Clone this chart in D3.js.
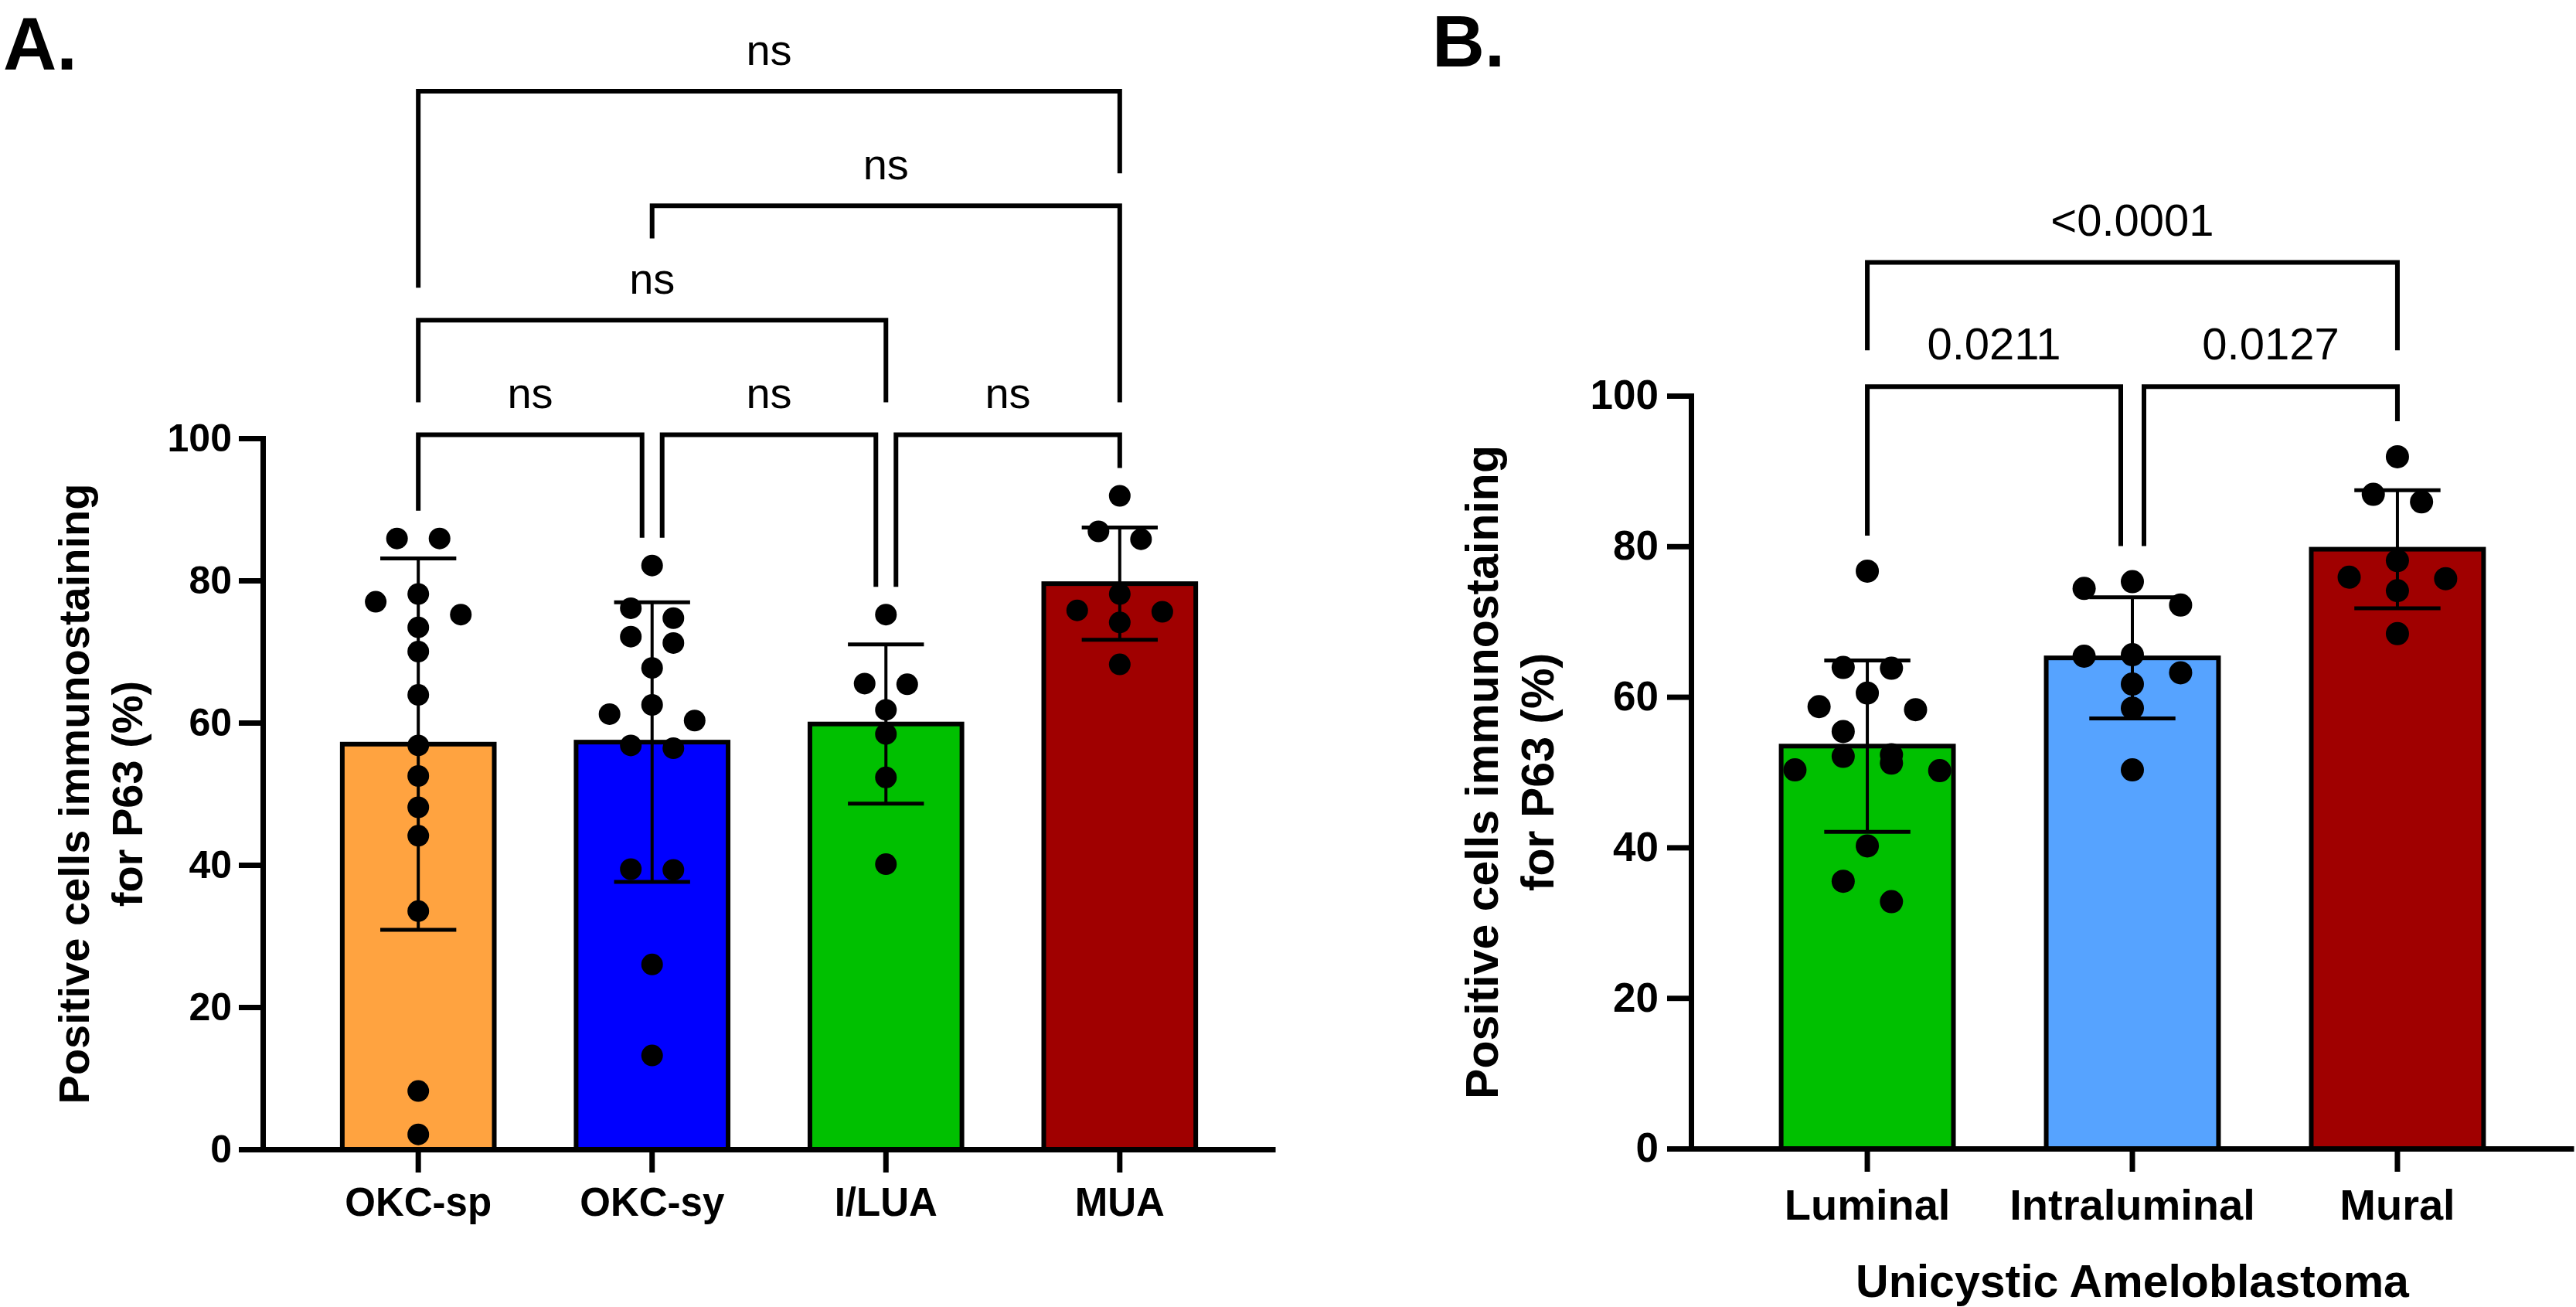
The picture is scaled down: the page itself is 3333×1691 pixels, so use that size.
<!DOCTYPE html>
<html>
<head>
<meta charset="utf-8">
<script src="https://cdn.jsdelivr.net/npm/d3@7"></script>
<style>
  body { margin: 0; background: #fff; }
  svg { display: block; }
</style>
</head>
<body>
<svg id="chart" width="3333" height="1691"></svg>
<script>
// ---- panel A : P63 positive cells per lesion type ----
const groupsA = ["OKC-sp", "OKC-sy", "I/LUA", "MUA"];
const okcSp = [85.9, 85.9, 78.1, 77.0, 75.2, 73.4, 70.0, 63.9, 56.8, 52.5, 48.1, 44.1, 33.5, 8.2, 2.1];
const okcSy = [82.1, 76.1, 74.7, 72.1, 71.2, 67.7, 62.5, 61.2, 60.3, 56.8, 56.4, 39.4, 39.3, 26.0, 13.2];
const iLua = [75.2, 65.5, 65.4, 61.8, 58.4, 52.3, 40.1];
const mua = [91.9, 86.9, 85.8, 78.1, 75.8, 75.6, 74.1, 68.2];
const pairsA = [["OKC-sp", "OKC-sy"], ["OKC-sy", "I/LUA"], ["I/LUA", "MUA"],
                ["OKC-sp", "I/LUA"], ["OKC-sy", "MUA"], ["OKC-sp", "MUA"]];
const pLabelsA = ["ns", "ns", "ns", "ns", "ns", "ns"];

// ---- panel B : unicystic ameloblastoma subtypes ----
const groupsB = ["Luminal", "Intraluminal", "Mural"];
const luminal = [76.7, 63.9, 63.8, 60.5, 58.7, 58.3, 55.4, 52.3, 52.1, 51.2, 50.3, 50.2, 40.2, 35.5, 32.8];
const intraluminal = [75.3, 74.4, 72.2, 65.6, 65.4, 63.2, 61.7, 58.5, 50.3];
const mural = [91.9, 86.9, 85.9, 78.1, 75.9, 75.7, 74.1, 68.4];
const pairsB = [["Luminal", "Intraluminal"], ["Intraluminal", "Mural"], ["Luminal", "Mural"]];
const pLabelsB = ["0.0211", "0.0127", "<0.0001"];

const yTicks = [0, 20, 40, 60, 80, 100];
const colorsA = ["#FFA340", "#0000FF", "#00C000", "#A00000"];
const colorsB = ["#00C000", "#56A3FF", "#A00000"];

const FONT = "'Liberation Sans', Arial, Helvetica, sans-serif";
const svg = d3.select("#chart");

// spread dots of one column into rows, like the prism scatter
function layoutDots(values, cx, y, bw, rowH) {
  const sorted = values.slice().sort((a, b) => b - a);
  const rows = [];
  sorted.forEach(v => {
    const row = rows[rows.length - 1];
    if (row && y(v) - y(row[0]) < rowH) row.push(v);
    else rows.push([v]);
  });
  const out = [];
  rows.forEach(row => {
    const n = row.length;
    const gap = n > 1 ? Math.min(0.28 * bw, 0.88 * bw / (n - 1)) : 0;
    const slots = d3.range(n).map(i => i - (n - 1) / 2)
      .sort((a, b) => Math.abs(a) - Math.abs(b) || a - b);
    row.forEach((v, i) => out.push({v: v, x: cx + slots[i] * gap, y: y(v)}));
  });
  return out;
}

function drawPanel(cfg) {
  const g = svg.append("g");

  const x = d3.scaleBand()
    .domain(cfg.groups)
    .range([cfg.x0, cfg.x1])
    .paddingInner(0.35)
    .paddingOuter(0.34);
  const y = d3.scaleLinear().domain([0, 100]).range([cfg.y0, cfg.y100]);
  const bw = x.bandwidth();
  const center = i => x(cfg.groups[i]) + bw / 2;

  const stats = cfg.values.map(vals => ({
    mean: d3.mean(vals),
    sd: d3.deviation(vals),
    max: d3.max(vals)
  }));

  // bars
  g.append("g")
    .selectAll("rect")
    .data(cfg.groups)
    .join("rect")
    .attr("x", d => x(d))
    .attr("y", (d, i) => y(stats[i].mean))
    .attr("width", bw)
    .attr("height", (d, i) => y(0) - y(stats[i].mean))
    .attr("fill", (d, i) => cfg.colors[i])
    .attr("stroke", "#000")
    .attr("stroke-width", 6);

  // y axis
  g.append("g")
    .attr("transform", `translate(${cfg.x0},0)`)
    .call(d3.axisLeft(y).tickValues(yTicks).tickSize(31).tickSizeOuter(0).tickPadding(cfg.tickPad))
    .call(a => {
      a.attr("font-family", FONT).attr("font-size", cfg.fs.tick).attr("font-weight", "bold");
      a.select(".domain").attr("stroke-width", 7).attr("stroke-linecap", "square");
      a.selectAll(".tick line").attr("stroke-width", 7);
      a.selectAll(".tick text").attr("fill", "#000");
    });

  // x axis
  g.append("g")
    .attr("transform", `translate(0,${cfg.y0})`)
    .call(d3.axisBottom(x).tickSize(30).tickSizeOuter(0).tickPadding(cfg.labelPad))
    .call(a => {
      a.attr("font-family", FONT).attr("font-size", cfg.fs.cat).attr("font-weight", "bold");
      a.select(".domain").attr("stroke-width", 7);
      a.selectAll(".tick line").attr("stroke-width", 7);
      a.selectAll(".tick text").attr("fill", "#000");
    });

  // error bars (mean +/- SD)
  const err = g.append("g").attr("stroke", "#000");
  stats.forEach((s, i) => {
    const cx = center(i);
    err.append("line")
      .attr("x1", cx).attr("x2", cx)
      .attr("y1", y(s.mean - s.sd)).attr("y2", y(s.mean + s.sd))
      .attr("stroke-width", 4);
    [s.mean - s.sd, s.mean + s.sd].forEach(v => {
      err.append("line")
        .attr("x1", cx - bw / 4).attr("x2", cx + bw / 4)
        .attr("y1", y(v)).attr("y2", y(v))
        .attr("stroke-width", 5);
    });
  });

  // individual values
  const dots = g.append("g");
  cfg.values.forEach((vals, i) => {
    dots.selectAll(null)
      .data(layoutDots(vals, center(i), y, bw, cfg.rowH))
      .join("circle")
      .attr("cx", d => d.x)
      .attr("cy", d => d.y)
      .attr("r", cfg.r)
      .attr("fill", "#000");
  });

  // comparison brackets, stacked by span
  const brackets = cfg.pairs.map((p, i) => ({
    a: cfg.groups.indexOf(p[0]), b: cfg.groups.indexOf(p[1]), label: cfg.labels[i]
  }));
  brackets.slice()
    .sort((p, q) => (p.b - p.a) - (q.b - q.a) || p.a - q.a)
    .forEach(br => {
      let lvl = 0;
      while (brackets.some(o => o !== br && o.level === lvl && o.a < br.b && br.a < o.b)) lvl++;
      br.level = lvl;
    });
  brackets.forEach(br => {
    const shareL = brackets.some(o => o !== br && o.level === br.level && o.b === br.a);
    const shareR = brackets.some(o => o !== br && o.level === br.level && o.a === br.b);
    br.xl = center(br.a) + (shareL ? cfg.legOff : 0);
    br.xr = center(br.b) - (shareR ? cfg.legOff : 0);
    br.yLine = y(cfg.levelBase + cfg.levelStep * br.level);
    br.tx = (br.xl + br.xr) / 2;
    br.ty = br.yLine - cfg.pLift;
    br.tw = cfg.fs.p * 0.56 * br.label.length;
    br.tTop = br.ty - cfg.fs.p * (/\d/.test(br.label) ? 0.72 : 0.53);
  });

  const dataTop = stats.map(s => Math.min(y(s.max) - cfg.r, y(s.mean + s.sd)));
  function legEnd(br, xLeg, gi) {
    let lim = dataTop[gi] - cfg.dataGap;
    brackets.filter(o => o.level < br.level).forEach(o => {
      if (xLeg >= o.xl - 20 && xLeg <= o.xr + 20) lim = Math.min(lim, o.yLine - cfg.bracketGap);
      if (Math.abs(xLeg - o.tx) <= o.tw / 2 + 10) lim = Math.min(lim, o.tTop - cfg.bracketGap);
    });
    return lim;
  }

  const bg = g.append("g");
  brackets.forEach(br => {
    bg.append("path")
      .attr("d", `M${br.xl},${legEnd(br, br.xl, br.a)}V${br.yLine}H${br.xr}V${legEnd(br, br.xr, br.b)}`)
      .attr("fill", "none")
      .attr("stroke", "#000")
      .attr("stroke-width", 6)
      .attr("stroke-linejoin", "miter");
    bg.append("text")
      .attr("x", br.tx)
      .attr("y", br.ty)
      .attr("text-anchor", "middle")
      .style("font-family", FONT)
      .style("font-size", cfg.fs.p + "px")
      .text(br.label);
  });

  // y axis title, two lines
  const midY = (cfg.y0 + cfg.y100) / 2;
  ["Positive cells immunostaining", "for P63 (%)"].forEach((t, i) => {
    g.append("text")
      .attr("transform", `translate(${cfg.titleX[i]},${midY}) rotate(-90)`)
      .attr("text-anchor", "middle")
      .style("font-family", FONT)
      .style("font-size", cfg.fs.title + "px")
      .style("font-weight", "bold")
      .text(t);
  });

  if (cfg.xTitle) {
    g.append("text")
      .attr("x", (cfg.x0 + cfg.x1) / 2)
      .attr("y", cfg.xTitleY)
      .attr("text-anchor", "middle")
      .style("font-family", FONT)
      .style("font-size", cfg.fs.title + "px")
      .style("font-weight", "bold")
      .text(cfg.xTitle);
  }

  // panel letter
  g.append("text")
    .attr("x", cfg.tag[1])
    .attr("y", cfg.tag[2])
    .style("font-family", FONT)
    .style("font-size", cfg.tag[3] + "px")
    .style("font-weight", "bold")
    .text(cfg.tag[0]);
}

drawPanel({
  groups: groupsA, values: [okcSp, okcSy, iLua, mua], colors: colorsA,
  pairs: pairsA, labels: pLabelsA,
  x0: 340, x1: 1650, y0: 1487, y100: 567,
  fs: {tick: 50, cat: 51, title: 56, p: 56},
  tickPad: 9, labelPad: 20, titleX: [115, 184],
  r: 14, rowH: 29,
  levelBase: 100.5, levelStep: 16.1, pLift: 34, legOff: 13,
  bracketGap: 42, dataGap: 22,
  tag: ["A.", 4, 90, 96]
});

drawPanel({
  groups: groupsB, values: [luminal, intraluminal, mural], colors: colorsB,
  pairs: pairsB, labels: pLabelsB,
  x0: 2188, x1: 3330, y0: 1486, y100: 512,
  fs: {tick: 53, cat: 56, title: 59, p: 58},
  tickPad: 11, labelPad: 22, titleX: [1938, 2010],
  r: 15, rowH: 31,
  levelBase: 101.2, levelStep: 16.5, pLift: 35, legOff: 15,
  bracketGap: 47, dataGap: 31,
  xTitle: "Unicystic Ameloblastoma", xTitleY: 1678,
  tag: ["B.", 1853, 86, 94]
});
</script>
</body>
</html>
